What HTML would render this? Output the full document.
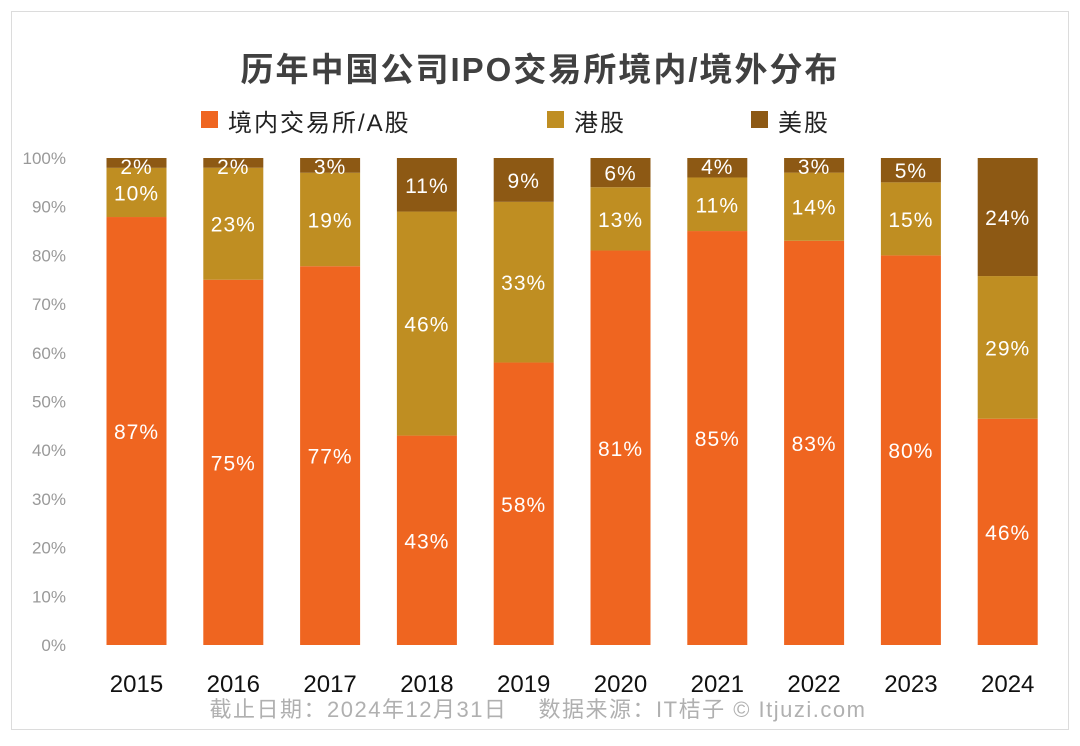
<!DOCTYPE html>
<html><head><meta charset="utf-8"><style>
body{margin:0;background:#fff;width:1080px;height:741px;overflow:hidden;font-family:"Liberation Sans","Noto Sans CJK SC",sans-serif}
</style></head><body>
<svg id="c" width="1080" height="741" xmlns="http://www.w3.org/2000/svg">
<rect x="11.5" y="11.5" width="1057" height="718" fill="#fff" stroke="#dcdcdc"/>
<text x="540" y="81" text-anchor="middle" font-size="33" letter-spacing="2" font-weight="bold" fill="#404040" font-family="Liberation Sans,Noto Sans CJK SC,sans-serif">历年中国公司IPO交易所境内/境外分布</text>
<g font-size="24" fill="#222" letter-spacing="2" font-family="Liberation Sans,Noto Sans CJK SC,sans-serif">
<rect x="201" y="111" width="17" height="17" fill="#EF6520"/>
<text x="228" y="131">境内交易所/A股</text>
<rect x="547" y="111" width="17" height="17" fill="#BF8E22"/>
<text x="574" y="131">港股</text>
<rect x="751" y="111" width="17" height="17" fill="#8D5914"/>
<text x="778" y="131">美股</text>
</g>
<g id="plot"></g>
<text x="538" y="717" text-anchor="middle" font-size="22" letter-spacing="1.5" fill="#b0b0b0" font-family="Liberation Sans,Noto Sans CJK SC,sans-serif">截止日期：2024年12月31日　 数据来源：IT桔子 © Itjuzi.com</text>
</svg>
<script>
const years=["2015","2016","2017","2018","2019","2020","2021","2022","2023","2024"];
const domestic=[87,75,77,43,58,81,85,83,80,46];
const hk=[10,23,19,46,33,13,11,14,15,29];
const us=[2,2,3,11,9,6,4,3,5,24];
const yTicks=[0,10,20,30,40,50,60,70,80,90,100];
const NS="http://www.w3.org/2000/svg";
const g=document.getElementById('plot');
const y0=645,y1=158,xL=88,step=96.8,bw=60;
const y=v=>y0-(y0-y1)*v/100;
const xc=i=>xL+48.5+i*step;
function mk(t,a){const e=document.createElementNS(NS,t);for(const k in a)e.setAttribute(k,a[k]);g.appendChild(e);return e;}
yTicks.forEach(t=>{
 const e=mk('text',{x:66,y:y(t)+6,'text-anchor':'end','font-size':17,fill:'#999'});
 
 
 e.textContent=t+'%';
});
const series=[[domestic,'#EF6520','domestic'],[hk,'#BF8E22','hk'],[us,'#8D5914','us']];
years.forEach((yr,i)=>{
 const tot=domestic[i]+hk[i]+us[i];
 let acc=0;
 series.forEach(([arr,col,nm])=>{
  const v=arr[i]/tot*100;
  const top=y(acc+v),bot=y(acc);
  const r=mk('rect',{x:xc(i)-bw/2,y:top,width:bw,height:bot-top,fill:col});
  
  
  const ty=nm==='us'&&arr[i]<5?top+16:(top+bot)/2+8;
  const t=mk('text',{x:xc(i),y:ty,'text-anchor':'middle','font-size':21,'letter-spacing':1,fill:'#fff'});
  
  
  t.textContent=arr[i]+'%';
  acc+=v;
 });
 const l=mk('text',{x:xc(i),y:692,'text-anchor':'middle','font-size':24,fill:'#111'});
 
 
 l.textContent=yr;
});
</script>
</body></html>
